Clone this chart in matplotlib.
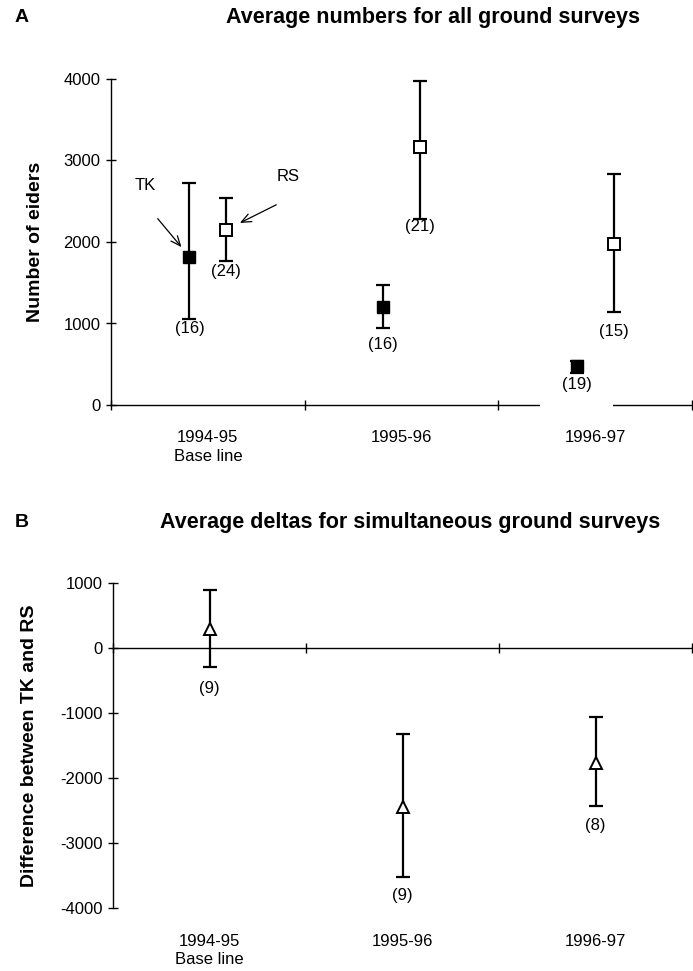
import matplotlib
matplotlib.use("Agg")
import matplotlib.pyplot as plt
import numpy as np

# ---------------- data ----------------
categories = ["1994-95\nBase line", "1995-96", "1996-97"]

tk_mean = [1820, 1205, 480]
tk_low = [1055, 940, 390]
tk_high = [2725, 1470, 545]
tk_n = [16, 16, 19]

rs_mean = [2150, 3160, 1970]
rs_low = [1765, 2280, 1135]
rs_high = [2535, 3980, 2840]
rs_n = [24, 21, 15]

delta_mean = [300, -2440, -1765]
delta_low = [-287, -3530, -2425]
delta_high = [890, -1320, -1060]
delta_n = [9, 9, 8]

yticks_a = [0, 1000, 2000, 3000, 4000]
yticks_b = [-4000, -3000, -2000, -1000, 0, 1000]

# ---------------- style ----------------
plt.rcParams['font.family'] = ['Liberation Sans', 'DejaVu Sans']
W, H = 693, 971
DPI = 100
PX = 72.0 / DPI  # points per pixel

fig = plt.figure(figsize=(W / DPI, H / DPI), dpi=DPI)
fig.patch.set_facecolor('white')

axA = fig.add_axes([111 / W, 1 - 405 / H, 581 / W, 326 / H])
axB = fig.add_axes([113 / W, 1 - 908 / H, 579 / W, 325 / H])

x = np.arange(len(categories))
off = 0.095
eb_kw = dict(fmt='none', ecolor='black', elinewidth=1.6, capsize=5, capthick=1.6, zorder=4.5)


def err(mean, low, high):
    m = np.array(mean); return [m - np.array(low), np.array(high) - m]


def style_axis(ax, ylim, yticks):
    ax.set_xlim(-0.5, len(categories) - 0.5)
    ax.set_ylim(*ylim)
    ax.set_yticks(yticks)
    ax.set_yticklabels([str(v) for v in yticks])
    ax.spines['right'].set_visible(False)
    ax.spines['top'].set_visible(False)
    ax.spines['left'].set_linewidth(1.0)
    ax.spines['bottom'].set_linewidth(1.0)
    ax.tick_params(axis='y', direction='inout', length=7, width=1.0, pad=4, labelsize=12)
    ax.set_xticks(x)
    ax.set_xticklabels(categories, linespacing=1.3)
    ax.set_xticks(np.arange(len(categories) + 1) - 0.5, minor=True)


# ---------------- panel A ----------------
style_axis(axA, (0, 4000), yticks_a)
axA.tick_params(axis='x', which='major', length=0, pad=18, labelsize=12)
axA.tick_params(axis='x', which='minor', direction='inout', length=7, width=1.0)

axA.errorbar(x - off, tk_mean, yerr=err(tk_mean, tk_low, tk_high), **eb_kw)
axA.errorbar(x + off, rs_mean, yerr=err(rs_mean, rs_low, rs_high), **eb_kw)
axA.plot(x - off, tk_mean, ls='none', marker='s', ms=8.5, mfc='black', mec='black', zorder=5)
axA.plot(x + off, rs_mean, ls='none', marker='s', ms=8, mfc='white', mec='black', mew=1.4, zorder=5)

tk_lab_off = [9, 16, 11]
rs_lab_off = [10, 7, 19]
for i in range(len(categories)):
    t = axA.annotate(f"({tk_n[i]})", xy=(x[i] - off, tk_low[i]), xytext=(0, -tk_lab_off[i] * PX),
                     textcoords='offset points', ha='center', va='center', fontsize=12, zorder=4)
    if i == 2:
        t.set_bbox(dict(facecolor='white', edgecolor='none', boxstyle='square,pad=1.3'))
    axA.annotate(f"({rs_n[i]})", xy=(x[i] + off, rs_low[i]), xytext=(0, -rs_lab_off[i] * PX),
                 textcoords='offset points', ha='center', va='center', fontsize=12, zorder=6)

arrow_kw = dict(arrowstyle='->,head_length=0.7,head_width=0.3', color='black', lw=0.9)
axA.annotate('', xy=(x[0] - off, tk_mean[0]), xytext=(-31.7 * PX, 38 * PX), textcoords='offset points',
             arrowprops=dict(shrinkA=0, shrinkB=9, **arrow_kw))
axA.annotate('TK', xy=(x[0] - off, tk_mean[0]), xytext=(-43.7 * PX, 71 * PX), textcoords='offset points',
             ha='center', va='center', fontsize=12)
axA.annotate('', xy=(x[0] + off, rs_mean[0]), xytext=(50 * PX, 25 * PX), textcoords='offset points',
             arrowprops=dict(shrinkA=0, shrinkB=11, **arrow_kw))
axA.annotate('RS', xy=(x[0] + off, rs_mean[0]), xytext=(62 * PX, 53 * PX), textcoords='offset points',
             ha='center', va='center', fontsize=12)

axA.set_ylabel('Number of eiders', fontsize=14, fontweight='bold')
axA.yaxis.set_label_coords(-(111 - 44) / 581, 0.5)

# ---------------- panel B ----------------
style_axis(axB, (-4000, 1000), yticks_b)
axB.spines['bottom'].set_visible(False)
axB.spines['top'].set_visible(True)
axB.spines['top'].set_position(('data', 0))
axB.spines['top'].set_linewidth(1.0)
axB.tick_params(axis='x', which='major', length=0, pad=19, top=False, bottom=True, labelsize=12)
axB.tick_params(axis='x', which='minor', direction='inout', length=7, width=1.0, top=True, bottom=False)

axB.errorbar(x, delta_mean, yerr=err(delta_mean, delta_low, delta_high), **eb_kw)
axB.plot(x, delta_mean, ls='none', marker='^', ms=8, mfc='white', mec='black', mew=1.4, zorder=5)

d_lab_off = [22, 18, 20]
for i in range(len(categories)):
    axB.annotate(f"({delta_n[i]})", xy=(x[i], delta_low[i]), xytext=(0, -d_lab_off[i] * PX),
                 textcoords='offset points', ha='center', va='center', fontsize=12, zorder=6)

axB.set_ylabel('Difference between TK and RS', fontsize=14, fontweight='bold')
axB.yaxis.set_label_coords(-(113 - 38) / 579, 0.5)

# ---------------- titles ----------------
fig.text(15 / W, 1 - 18 / H, 'A', fontsize=14, fontweight='bold', ha='left', va='center')
fig.text(433 / W, 1 - 18 / H, 'Average numbers for all ground surveys', fontsize=15.5,
         fontweight='bold', ha='center', va='center')
fig.text(15 / W, 1 - 522 / H, 'B', fontsize=14, fontweight='bold', ha='left', va='center')
fig.text(410 / W, 1 - 522 / H, 'Average deltas for simultaneous ground surveys', fontsize=15.5,
         fontweight='bold', ha='center', va='center')

fig.savefig('out.png', dpi=DPI, facecolor='white')
